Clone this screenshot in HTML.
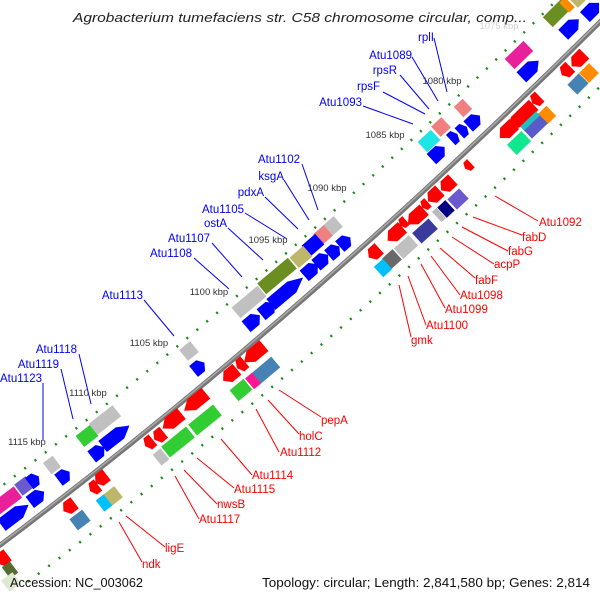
<!DOCTYPE html>
<html><head><meta charset="utf-8"><style>
html,body{margin:0;padding:0;background:#fff;width:600px;height:600px;overflow:hidden}
svg{display:block}
text{font-family:"Liberation Sans",sans-serif}
.b{fill:#0000ff;font-size:11.5px}
.r{fill:#ff0000;font-size:11.5px}
.k{fill:#333;font-size:9.5px;text-anchor:middle}
.lb{stroke:#0000ff;stroke-width:1}
.lr{stroke:#ff0000;stroke-width:1}
</style></head><body>
<svg width="600" height="600" viewBox="0 0 600 600" xmlns="http://www.w3.org/2000/svg">
<defs>
<polygon id="R" points="-10,-7 10,-7 10,7 -10,7"/>
<polygon id="F" points="-10,-7 3,-7 10,0 3,7 -10,7"/>
<polygon id="V" points="10,-7 -3,-7 -10,0 -3,7 10,7"/>
</defs>

<path d="M-27.5,508 Q270,286 567.5,-10.5" fill="none" stroke="#1a8a1a" stroke-width="2.5" stroke-dasharray="2 11"/>
<path d="M27.5,582 Q330,356 632.5,54.5" fill="none" stroke="#1a8a1a" stroke-width="2.5" stroke-dasharray="2 11"/>

<path d="M-5,549 Q300,321 605,17" fill="none" stroke="#777" stroke-width="5"/>
<path d="M-5,548 Q300,320 605,16" fill="none" stroke="#aaa" stroke-width="1.5"/>

<g>
<use href="#R" transform="translate(557 13) rotate(-45) scale(1.3 1)" fill="#6b8e23"/>
<use href="#R" transform="translate(567 5) rotate(-45) scale(0.4 1)" fill="#ff8c00"/>
<use href="#R" transform="translate(578 -2) rotate(-45) scale(0.7 1)" fill="#bdb76b"/>
<use href="#F" transform="translate(571 27) rotate(-45) scale(1.1 1)" fill="#0000ff"/>
<use href="#F" transform="translate(592 10) rotate(-45) scale(1 1)" fill="#0000ff"/>
<use href="#R" transform="translate(519 55) rotate(-44) scale(1.3 1)" fill="#e8209a"/>
<use href="#F" transform="translate(530 69) rotate(-44) scale(1.2 1)" fill="#0000ff"/>
<use href="#V" transform="translate(578 60) rotate(-45) scale(0.9 1)" fill="#ff0000"/>
<use href="#V" transform="translate(566 71) rotate(-45) scale(0.6 1)" fill="#ff0000"/>
<use href="#R" transform="translate(589 73) rotate(-45) scale(0.7 1)" fill="#ff8c00"/>
<use href="#R" transform="translate(578 84) rotate(-45) scale(0.8 1)" fill="#4682b4"/>

<use href="#R" transform="translate(463 108) rotate(-43) scale(0.6 1)" fill="#f08080"/>
<use href="#R" transform="translate(441 127) rotate(-43) scale(0.7 1)" fill="#f08080"/>
<use href="#F" transform="translate(474 121) rotate(-43) scale(0.8 1)" fill="#0000ff"/>
<use href="#F" transform="translate(463 130) rotate(-43) scale(0.5 1)" fill="#0000ff"/>
<use href="#F" transform="translate(454 137) rotate(-43) scale(0.45 1)" fill="#0000ff"/>
<use href="#F" transform="translate(438 153) rotate(-43) scale(0.9 1)" fill="#0000ff"/>
<use href="#R" transform="translate(429 141) rotate(-43) scale(0.9 1)" fill="#1ee6e6"/>

<use href="#V" transform="translate(520 118) rotate(-44) scale(1.9 1)" fill="#ff0000"/>
<use href="#V" transform="translate(507 131) rotate(-44) scale(1 1)" fill="#ff0000"/>
<use href="#V" transform="translate(536 100) rotate(-44) scale(0.5 1)" fill="#ff0000"/>
<use href="#R" transform="translate(547 115) rotate(-44) scale(0.6 1)" fill="#ff8c00"/>
<use href="#R" transform="translate(535 126) rotate(-44) scale(1.1 1)" fill="#5a5ac8"/>
<use href="#R" transform="translate(530 121) rotate(-44) scale(1.1 0.4)" fill="#20c0c0"/>
<use href="#R" transform="translate(519 143) rotate(-44) scale(1 1)" fill="#10e890"/>
<use href="#V" transform="translate(468 166) rotate(-43) scale(0.4 0.8)" fill="#ff0000"/>

<use href="#V" transform="translate(447 185) rotate(-43) scale(0.8 1)" fill="#ff0000"/>
<use href="#V" transform="translate(434 196) rotate(-43) scale(0.8 1)" fill="#ff0000"/>
<use href="#R" transform="translate(458 199) rotate(-43) scale(0.8 1)" fill="#6a5acd"/>
<use href="#R" transform="translate(446 209) rotate(-43) scale(0.55 1)" fill="#000080"/>
<use href="#R" transform="translate(439 215) rotate(-43) scale(0.3 1)" fill="#bbb"/>
<use href="#V" transform="translate(416 217) rotate(-42) scale(1.1 1)" fill="#ff0000"/>
<use href="#V" transform="translate(395 234) rotate(-42) scale(1 1)" fill="#ff0000"/>
<use href="#V" transform="translate(374 253) rotate(-42) scale(0.7 1)" fill="#ff0000"/>
<use href="#V" transform="translate(425 205) rotate(-42) scale(0.4 0.8)" fill="#ff0000"/>
<use href="#V" transform="translate(403 223) rotate(-42) scale(0.4 0.8)" fill="#ff0000"/>
<use href="#R" transform="translate(425 231) rotate(-42) scale(1.1 1)" fill="#3a3a9a"/>
<use href="#R" transform="translate(406 247) rotate(-42) scale(1 1)" fill="#c0c0c0"/>
<use href="#R" transform="translate(392 259) rotate(-42) scale(0.7 1)" fill="#696969"/>
<use href="#R" transform="translate(383 268) rotate(-42) scale(0.6 1)" fill="#00bfff"/>

<use href="#R" transform="translate(333 226) rotate(-41) scale(0.7 1)" fill="#c0c0c0"/>
<use href="#R" transform="translate(323 235) rotate(-41) scale(0.7 1)" fill="#f08080"/>
<use href="#R" transform="translate(313 245) rotate(-41) scale(0.9 1)" fill="#0000ff"/>
<use href="#R" transform="translate(301 257) rotate(-41) scale(0.9 1)" fill="#bdb76b"/>
<use href="#R" transform="translate(277 276) rotate(-40) scale(2 1)" fill="#6b8e23"/>
<use href="#R" transform="translate(249 302) rotate(-40) scale(1.7 1)" fill="#c0c0c0"/>
<use href="#F" transform="translate(345 242) rotate(-41) scale(0.7 1)" fill="#0000ff"/>
<use href="#F" transform="translate(334 251) rotate(-41) scale(0.7 1)" fill="#0000ff"/>
<use href="#F" transform="translate(322 260) rotate(-41) scale(0.8 1)" fill="#0000ff"/>
<use href="#F" transform="translate(311 270) rotate(-41) scale(0.9 1)" fill="#0000ff"/>
<use href="#F" transform="translate(287 291) rotate(-40) scale(2.1 1)" fill="#0000ff"/>
<use href="#F" transform="translate(268 309) rotate(-40) scale(0.9 1)" fill="#0000ff"/>
<use href="#F" transform="translate(253 321) rotate(-40) scale(0.9 1)" fill="#0000ff"/>
<use href="#R" transform="translate(189 351) rotate(-39) scale(0.7 1)" fill="#c0c0c0"/>
<use href="#F" transform="translate(199 367) rotate(-39) scale(0.7 1)" fill="#0000ff"/>
<use href="#R" transform="translate(105 420) rotate(-38) scale(1.5 1)" fill="#c0c0c0"/>
<use href="#R" transform="translate(87 436) rotate(-38) scale(0.9 1)" fill="#32cd32"/>
<use href="#F" transform="translate(116 436) rotate(-38) scale(1.7 1)" fill="#0000ff"/>
<use href="#F" transform="translate(98 452) rotate(-38) scale(0.8 1)" fill="#0000ff"/>
<use href="#R" transform="translate(52 465) rotate(-37) scale(0.6 1)" fill="#c0c0c0"/>
<use href="#F" transform="translate(64 476) rotate(-37) scale(0.7 1)" fill="#0000ff"/>
<use href="#R" transform="translate(24 486) rotate(-37) scale(0.7 1)" fill="#6a5acd"/>
<use href="#F" transform="translate(34 480) rotate(-37) scale(0.6 1)" fill="#0000ff"/>
<use href="#R" transform="translate(6 501) rotate(-37) scale(1.5 1)" fill="#e8209a"/>
<use href="#F" transform="translate(37 497) rotate(-37) scale(0.9 1)" fill="#0000ff"/>
<use href="#F" transform="translate(15 515) rotate(-37) scale(1.7 1)" fill="#0000ff"/>

<use href="#V" transform="translate(254 354) rotate(-40) scale(1.3 1)" fill="#ff0000"/>
<use href="#V" transform="translate(241 365) rotate(-40) scale(0.5 1)" fill="#ff0000"/>
<use href="#V" transform="translate(230 375) rotate(-40) scale(0.9 1)" fill="#ff0000"/>
<use href="#R" transform="translate(265 371) rotate(-40) scale(1.4 1)" fill="#4682b4"/>
<use href="#R" transform="translate(253 381) rotate(-40) scale(0.45 1)" fill="#ff1493"/>
<use href="#R" transform="translate(241 390) rotate(-40) scale(0.9 1)" fill="#32cd32"/>
<use href="#V" transform="translate(195 402) rotate(-39) scale(1.4 1)" fill="#ff0000"/>
<use href="#V" transform="translate(172 421) rotate(-39) scale(1.2 1)" fill="#ff0000"/>
<use href="#V" transform="translate(159 436) rotate(-39) scale(0.6 1)" fill="#ff0000"/>
<use href="#V" transform="translate(149 443) rotate(-39) scale(0.5 1)" fill="#ff0000"/>
<use href="#R" transform="translate(205 420) rotate(-39) scale(1.6 1)" fill="#32cd32"/>
<use href="#R" transform="translate(178 442) rotate(-39) scale(1.6 1)" fill="#32cd32"/>
<use href="#R" transform="translate(161 457) rotate(-39) scale(0.5 1)" fill="#c0c0c0"/>
<use href="#V" transform="translate(101 479) rotate(-38) scale(0.7 1)" fill="#ff0000"/>
<use href="#V" transform="translate(94 488) rotate(-38) scale(0.5 1)" fill="#ff0000"/>
<use href="#R" transform="translate(113 496) rotate(-38) scale(0.7 1)" fill="#bdb76b"/>
<use href="#R" transform="translate(104 503) rotate(-38) scale(0.5 1)" fill="#00bfff"/>
<use href="#V" transform="translate(69 507) rotate(-37) scale(0.7 1)" fill="#ff0000"/>
<use href="#R" transform="translate(80 520) rotate(-37) scale(0.8 1)" fill="#4682b4"/>
<use href="#V" transform="translate(2 559) rotate(-37) scale(0.7 1)" fill="#ff0000"/>
<use href="#R" transform="translate(10 570) rotate(-37) scale(0.5 1)" fill="#556b2f"/>
<use href="#R" transform="translate(11 582) rotate(-37) scale(0.7 1)" fill="#dfe8d0"/>
</g>

<line class="lb" x1="434" y1="38" x2="447" y2="92"/>
<line class="lb" x1="412" y1="57" x2="438" y2="101"/>
<line class="lb" x1="400" y1="75" x2="429" y2="109"/>
<line class="lb" x1="383" y1="92" x2="425" y2="114"/>
<line class="lb" x1="363" y1="106" x2="413" y2="124"/>
<line class="lb" x1="302" y1="164" x2="318" y2="210"/>
<line class="lb" x1="284" y1="180" x2="309" y2="220"/>
<line class="lb" x1="265" y1="197" x2="298" y2="229"/>
<line class="lb" x1="245" y1="213" x2="287" y2="239"/>
<line class="lb" x1="228" y1="228" x2="263" y2="260"/>
<line class="lb" x1="212" y1="243" x2="242" y2="277"/>
<line class="lb" x1="194" y1="258" x2="229" y2="289"/>
<line class="lb" x1="144" y1="300" x2="174" y2="336"/>
<line class="lb" x1="79" y1="354" x2="91" y2="404"/>
<line class="lb" x1="61" y1="369" x2="73" y2="419"/>
<line class="lb" x1="43" y1="383" x2="43" y2="440"/>
<text class="b" x="434" y="41" text-anchor="end">rplI</text>
<text class="b" x="412" y="59" text-anchor="end">Atu1089</text>
<text class="b" x="397" y="74" text-anchor="end">rpsR</text>
<text class="b" x="380" y="90" text-anchor="end">rpsF</text>
<text class="b" x="362" y="106" text-anchor="end">Atu1093</text>
<text class="b" x="300" y="163" text-anchor="end">Atu1102</text>
<text class="b" x="284" y="180" text-anchor="end">ksgA</text>
<text class="b" x="264" y="196" text-anchor="end">pdxA</text>
<text class="b" x="244" y="213" text-anchor="end">Atu1105</text>
<text class="b" x="227" y="227" text-anchor="end">ostA</text>
<text class="b" x="210" y="242" text-anchor="end">Atu1107</text>
<text class="b" x="192" y="257" text-anchor="end">Atu1108</text>
<text class="b" x="143" y="299" text-anchor="end">Atu1113</text>
<text class="b" x="77" y="353" text-anchor="end">Atu1118</text>
<text class="b" x="59" y="368" text-anchor="end">Atu1119</text>
<text class="b" x="42" y="382" text-anchor="end">Atu1123</text>

<line class="lr" x1="538" y1="221" x2="495" y2="196"/>
<line class="lr" x1="522" y1="235" x2="473" y2="217"/>
<line class="lr" x1="508" y1="251" x2="462" y2="227"/>
<line class="lr" x1="494" y1="264" x2="452" y2="237"/>
<line class="lr" x1="475" y1="278" x2="440" y2="248"/>
<line class="lr" x1="460" y1="295" x2="431" y2="256"/>
<line class="lr" x1="445" y1="308" x2="421" y2="264"/>
<line class="lr" x1="426" y1="325" x2="408" y2="276"/>
<line class="lr" x1="411" y1="337" x2="399" y2="285"/>
<line class="lr" x1="321" y1="417" x2="279" y2="390"/>
<line class="lr" x1="299" y1="434" x2="268" y2="400"/>
<line class="lr" x1="279" y1="452" x2="256" y2="409"/>
<line class="lr" x1="252" y1="475" x2="221" y2="439"/>
<line class="lr" x1="234" y1="488" x2="197" y2="458"/>
<line class="lr" x1="217" y1="504" x2="184" y2="470"/>
<line class="lr" x1="199" y1="519" x2="175" y2="476"/>
<line class="lr" x1="165" y1="547" x2="126" y2="516"/>
<line class="lr" x1="142" y1="562" x2="119" y2="522"/>
<text class="r" x="539" y="226">Atu1092</text>
<text class="r" x="522" y="241">fabD</text>
<text class="r" x="508" y="255">fabG</text>
<text class="r" x="494" y="268">acpP</text>
<text class="r" x="475" y="284">fabF</text>
<text class="r" x="460" y="299">Atu1098</text>
<text class="r" x="445" y="313">Atu1099</text>
<text class="r" x="426" y="329">Atu1100</text>
<text class="r" x="411" y="344">gmk</text>
<text class="r" x="321" y="424">pepA</text>
<text class="r" x="299" y="440">holC</text>
<text class="r" x="280" y="456">Atu1112</text>
<text class="r" x="252" y="479">Atu1114</text>
<text class="r" x="234" y="493">Atu1115</text>
<text class="r" x="217" y="508">nwsB</text>
<text class="r" x="199" y="523">Atu1117</text>
<text class="r" x="165" y="552">ligE</text>
<text class="r" x="142" y="568">ndk</text>

<text class="k" x="499" y="29" style="fill:#d0d0d0">1075 kbp</text>
<text class="k" x="442" y="84">1080 kbp</text>
<text class="k" x="385" y="138">1085 kbp</text>
<text class="k" x="327" y="191">1090 kbp</text>
<text class="k" x="268" y="243">1095 kbp</text>
<text class="k" x="209" y="295">1100 kbp</text>
<text class="k" x="149" y="346">1105 kbp</text>
<text class="k" x="88" y="396">1110 kbp</text>
<text class="k" x="27" y="445">1115 kbp</text>

<text x="73" y="22" font-size="13" font-style="italic" fill="#222" textLength="454" lengthAdjust="spacingAndGlyphs">Agrobacterium tumefaciens str. C58 chromosome circular, comp...</text>
<text x="10" y="587" font-size="12.5" fill="#111" textLength="133" lengthAdjust="spacingAndGlyphs">Accession: NC_003062</text>
<text x="262" y="587" font-size="12.5" fill="#111" textLength="328" lengthAdjust="spacingAndGlyphs">Topology: circular; Length: 2,841,580 bp; Genes: 2,814</text>
</svg>
</body></html>
